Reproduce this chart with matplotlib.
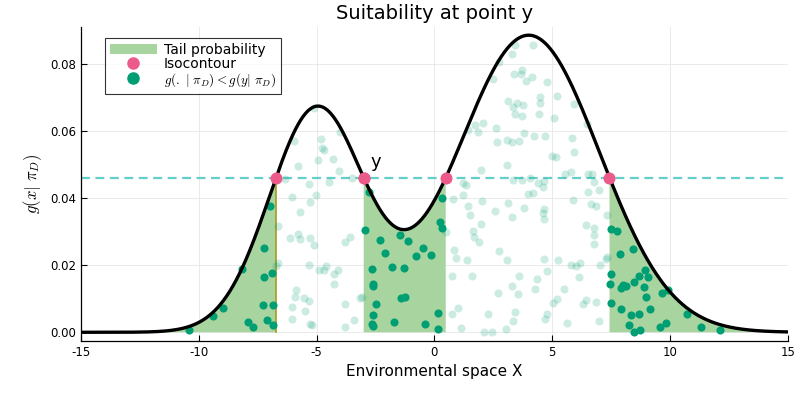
import numpy as np
import matplotlib
matplotlib.use("Agg")
import matplotlib.pyplot as plt
from matplotlib.patches import Patch
from matplotlib.lines import Line2D

plt.rcParams['mathtext.fontset'] = 'cm'
plt.rcParams['font.family'] = ['DejaVu Sans']

# Mixture density parameters
weights = [1/3, 2/3]
means = [-5.0, 4.0]
sds = [2.0, 3.0]
y_point = -3.0

# Points inside the tail region (below curve, where g(x) < g(y))
in_x = [-10.41, -9.38, -8.97, -8.16, -7.92, -7.71, -7.22, -7.21, -7.25, -7.10, -6.97, -6.91, -6.84, -6.85,
        -2.78, -2.96, -2.29, -1.46, -1.10, -2.11, -0.50, -0.76, -0.13, 0.33, 0.24, 0.33, -2.66, -1.80, -1.27,
        -2.61, -2.59, -1.42, -1.23, -2.48, -2.59, -2.66, -2.61, -1.70, -0.38, 0.16, 0.14,
        7.48, 7.75, 7.88, 8.41, 7.48, 7.44, 7.51, 8.94, 8.70, 9.06, 8.47, 7.92, 8.00, 8.12, 8.91, 8.98,
        9.65, 9.89, 7.92, 9.15, 8.33, 8.68, 10.70, 8.26, 8.47, 8.74, 9.57, 9.82, 11.30, 12.11]
in_y = [0.0006, 0.0050, 0.0073, 0.0188, 0.0032, 0.0017, 0.0251, 0.0166, 0.0081, 0.0037, 0.0377, 0.0178, 0.0082, 0.0021,
        0.0419, 0.0304, 0.0276, 0.0290, 0.0273, 0.0238, 0.0253, 0.0227, 0.0232, 0.0400, 0.0330, 0.0310, 0.0190, 0.0196, 0.0193,
        0.0143, 0.0138, 0.0102, 0.0105, 0.0084, 0.0051, 0.0025, 0.0018, 0.0032, 0.0024, 0.0059, 0.0011,
        0.0309, 0.0303, 0.0235, 0.0249, 0.0173, 0.0143, 0.0087, 0.0186, 0.0168, 0.0166, 0.0150, 0.0132, 0.0140, 0.0137, 0.0134, 0.0106,
        0.0116, 0.0126, 0.0070, 0.0070, 0.0053, 0.0056, 0.0054, 0.0021, 0.0002, 0.0006, 0.0017, 0.0027, 0.0016, 0.0007]

# Points outside the tail region (faded)
out_x = [-5.10, -5.95, -4.82, -4.01, -4.77, -4.67, -4.93, -4.32, -5.79, -4.05, -4.46, -3.50, -6.33, -5.34, -5.04,
         -6.06, -5.26, -5.72, -6.63, -6.11, -5.79, -5.69, -5.26, -5.10, -3.60, -3.81, -6.63, -6.73, -5.33, -4.89,
         -4.70, -4.58, -4.24, -4.08, -4.28, -5.85, -5.91, -5.52, -5.33, -6.06, -5.48, -3.81, -3.07, -3.16, -6.06,
         -5.28, -5.21, -3.41, -3.78,
         3.40, 3.30, 2.76, 3.39, 3.73, 3.68, 3.87, 2.48, 3.14, 3.33, 3.50, 3.75, 3.41, 3.71, 1.74, 2.08, 1.44,
         1.84, 2.61, 3.10, 3.30, 3.60, 3.82, 2.65, 1.97, 3.10, 3.33, 3.73, 1.20, 1.35, 1.20, 0.78, 3.97, 2.00,
         3.13, 1.44, 3.80, 2.56, 1.52, 3.30, 1.98, 0.48, 1.63, 1.69, 1.88, 0.82, 0.92, 1.39, 2.73, 3.09, 0.75,
         1.61, 3.58, 3.30, 3.56, 2.71, 1.01, 0.74, 2.27, 3.44, 3.33, 1.12, 2.12, 2.45, 3.02,
         4.18, 4.14, 4.77, 4.46, 5.21, 4.46, 5.92, 4.43, 5.09, 6.47, 4.21, 4.70, 5.84, 5.92, 4.99, 5.14, 5.55,
         5.78, 6.53, 6.70, 4.05, 4.39, 4.64, 4.60, 6.76, 6.52, 6.97, 4.18, 5.86, 6.63, 6.84, 4.67, 4.60, 4.64,
         7.32, 6.45, 6.77, 6.76, 6.79, 4.67, 5.26, 7.32, 7.27, 7.03, 5.79, 5.99, 6.16, 4.77, 6.13, 4.35, 4.25,
         5.51, 5.03, 5.20, 6.29, 6.45, 6.85, 4.77, 4.69, 5.64, 6.98]
out_y = [0.0669, 0.0571, 0.0577, 0.0598, 0.0549, 0.0544, 0.0515, 0.0517, 0.0496, 0.0481, 0.0448, 0.0461, 0.0458, 0.0443, 0.0411,
         0.0404, 0.0388, 0.0359, 0.0317, 0.0282, 0.0293, 0.0279, 0.0281, 0.0261, 0.0285, 0.0269, 0.0208, 0.0198, 0.0202, 0.0185,
         0.0185, 0.0199, 0.0175, 0.0185, 0.0144, 0.0126, 0.0106, 0.0101, 0.0094, 0.0076, 0.0064, 0.0084, 0.0106, 0.0101, 0.0039,
         0.0026, 0.0021, 0.0036, 0.0017,
         0.0856, 0.0831, 0.0806, 0.0770, 0.0783, 0.0771, 0.0750, 0.0756, 0.0691, 0.0673, 0.0684, 0.0679, 0.0652, 0.0645, 0.0619, 0.0625, 0.0604,
         0.0597, 0.0611, 0.0574, 0.0567, 0.0570, 0.0594, 0.0567, 0.0484, 0.0500, 0.0455, 0.0454, 0.0445, 0.0439, 0.0410, 0.0398, 0.0413, 0.0391,
         0.0385, 0.0378, 0.0370, 0.0363, 0.0349, 0.0344, 0.0324, 0.0299, 0.0301, 0.0284, 0.0270, 0.0246, 0.0223, 0.0217, 0.0243, 0.0215, 0.0167,
         0.0169, 0.0168, 0.0139, 0.0113, 0.0118, 0.0072, 0.0055, 0.0055, 0.0061, 0.0034, 0.0012, 0.0002, 0.0000, 0.0011,
         0.0856, 0.0761, 0.0748, 0.0701, 0.0706, 0.0684, 0.0681, 0.0651, 0.0638, 0.0621, 0.0586, 0.0587, 0.0581, 0.0539, 0.0526, 0.0522, 0.0473,
         0.0479, 0.0472, 0.0473, 0.0459, 0.0445, 0.0452, 0.0435, 0.0449, 0.0419, 0.0424, 0.0415, 0.0395, 0.0383, 0.0377, 0.0367, 0.0355, 0.0337,
         0.0349, 0.0320, 0.0310, 0.0291, 0.0263, 0.0219, 0.0216, 0.0226, 0.0218, 0.0201, 0.0200, 0.0198, 0.0206, 0.0183, 0.0164, 0.0158, 0.0130,
         0.0128, 0.0088, 0.0099, 0.0084, 0.0096, 0.0090, 0.0055, 0.0039, 0.0027, 0.0033]

x_ticks = [-15, -10, -5, 0, 5, 10, 15]
y_ticks = [0.00, 0.02, 0.04, 0.06, 0.08]

GREEN_FILL = '#a8d4a0'
DARK = '#009e73'
PINK = '#ec5a8a'
TEAL = '#62cfca'


def density(x):
    x = np.asarray(x, dtype=float)
    out = np.zeros_like(x)
    for w, m, s in zip(weights, means, sds):
        out += w * np.exp(-0.5 * ((x - m) / s) ** 2) / (s * np.sqrt(2 * np.pi))
    return out


xs = np.linspace(-15, 15, 3001)
gs = density(xs)
level = float(density(np.array([y_point]))[0])

# crossings of the isocontour
diff = gs - level
idx = np.where(np.sign(diff[:-1]) != np.sign(diff[1:]))[0]
cross = []
for i in idx:
    x0, x1 = xs[i], xs[i + 1]
    d0, d1 = diff[i], diff[i + 1]
    cross.append(x0 - d0 * (x1 - x0) / (d1 - d0))
cross = np.array(cross)

fig = plt.figure(figsize=(8, 4), dpi=100)
ax = fig.add_axes([0.101, 0.1475, 0.884, 0.785])

below = gs <= level
ax.fill_between(xs, 0, gs, where=below, color=GREEN_FILL, linewidth=0, interpolate=True)
ax.plot([cross[0], cross[0]], [0, level], color='#a89a1c', lw=1.2, zorder=2)

ax.scatter(out_x, out_y, s=34, color=DARK, alpha=0.2, linewidths=0, zorder=3)
ax.scatter(in_x, in_y, s=34, color=DARK, linewidths=0, zorder=3)

ax.axhline(level, color=TEAL, lw=1.6, dashes=(4, 2.5), zorder=2)
ax.plot(xs, gs, color='black', lw=2.4, zorder=4)
ax.scatter(cross, np.full_like(cross, level), s=75, color=PINK, linewidths=0, zorder=5)
ax.annotate('y', (y_point, level), xytext=(5, 5), textcoords='offset points',
            fontsize=13, ha='left', va='bottom')

ax.set_xlim(-15, 15)
ax.set_ylim(-0.0026, 0.0911)
ax.set_xticks(x_ticks)
ax.set_yticks(y_ticks)
ax.set_xticklabels([f'{t}' for t in x_ticks])
ax.set_yticklabels([f'{t:.2f}' for t in y_ticks])
ax.tick_params(direction='in', labelsize=8.5, length=4, width=0.8)
ax.grid(True, color='#e6e6e6', lw=0.6)
ax.set_axisbelow(True)
for sp in ['top', 'right']:
    ax.spines[sp].set_visible(False)
for sp in ['left', 'bottom']:
    ax.spines[sp].set_linewidth(0.9)

ax.set_title('Suitability at point y', fontsize=14, pad=6)
ax.set_xlabel('Environmental space X', fontsize=11)
ax.set_ylabel(r'$g(x|\ \pi_D)$', fontsize=12)

handles = [Patch(facecolor=GREEN_FILL, edgecolor='none'),
           Line2D([], [], marker='o', ls='none', color=PINK, markersize=8),
           Line2D([], [], marker='o', ls='none', color=DARK, markersize=8)]
labels = ['Tail probability', 'Isocontour', r'$g(.\ |\ \pi_D) < g(y|\ \pi_D)$']
leg = ax.legend(handles, labels, loc='upper left', bbox_to_anchor=(105 / 800, 1 - 38 / 400),
                bbox_transform=fig.transFigure, fontsize=10, frameon=True, fancybox=False,
                handlelength=3.4, handleheight=0.7, borderpad=0.35, labelspacing=0.0,
                handletextpad=0.5, borderaxespad=0.0)
leg.get_texts()[2].set_fontsize(9.5)
leg.get_frame().set_edgecolor('black')
leg.get_frame().set_linewidth(0.8)

fig.savefig('out.png', dpi=100)
